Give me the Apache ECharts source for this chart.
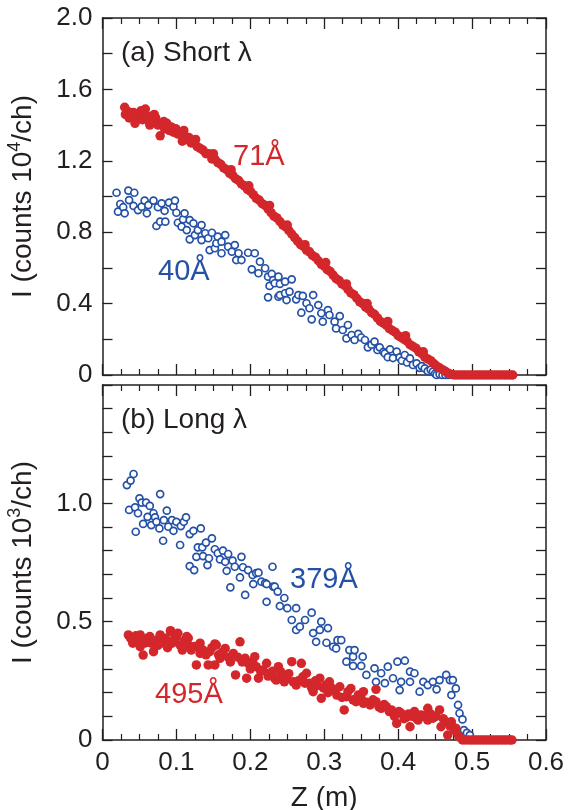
<!DOCTYPE html>
<html>
<head>
<meta charset="utf-8">
<script src="https://cdn.jsdelivr.net/npm/echarts@6/dist/echarts.min.js"></script>
<style>
html,body{margin:0;padding:0;background:#fff;}
#chart{width:568px;height:810px;}
</style>
</head>
<body>
<div id="chart"></div>
<script>
// ---------- DATA ----------
// x axis tick values (Z in m)
const zTicks = [0, 0.1, 0.2, 0.3, 0.4, 0.5, 0.6];
// panel (a) y ticks (counts 10^4/ch), panel (b) y ticks (counts 10^3/ch)
const yTicksTop = [0, 0.4, 0.8, 1.2, 1.6, 2.0];
const yTicksBottom = [0, 0.5, 1.0];

// Panel (a): 71 Å (red filled)
const short71 = [
[0.030,1.50],[0.031,1.46],[0.033,1.48],[0.036,1.44],[0.037,1.47],[0.039,1.45],[0.042,1.47],[0.045,1.44],[0.048,1.46],[0.051,1.45],
[0.052,1.48],[0.054,1.43],[0.057,1.46],[0.060,1.44],[0.063,1.42],[0.064,1.40],[0.066,1.45],[0.069,1.42],[0.072,1.44],[0.075,1.40],
[0.078,1.34],[0.081,1.41],[0.084,1.38],[0.087,1.41],[0.090,1.37],[0.093,1.39],[0.096,1.36],[0.099,1.38],[0.102,1.35],[0.105,1.36],
[0.108,1.31],[0.111,1.34],[0.114,1.32],[0.117,1.33],[0.120,1.30],[0.124,1.30],[0.128,1.28],[0.132,1.27],[0.136,1.26],[0.140,1.24],
[0.144,1.24],[0.148,1.21],[0.152,1.21],[0.156,1.19],[0.160,1.18],[0.164,1.16],[0.168,1.15],[0.172,1.13],[0.176,1.12],[0.180,1.10],
[0.184,1.09],[0.188,1.07],[0.192,1.06],[0.196,1.04],[0.200,1.03],[0.204,1.01],[0.208,0.99],[0.212,0.98],[0.216,0.96],[0.220,0.95],
[0.224,0.93],[0.228,0.91],[0.232,0.89],[0.236,0.88],[0.240,0.86],[0.244,0.84],[0.248,0.83],[0.252,0.81],[0.256,0.79],[0.260,0.77],
[0.264,0.75],[0.268,0.73],[0.272,0.72],[0.276,0.70],[0.280,0.69],[0.284,0.67],[0.288,0.66],[0.292,0.64],[0.296,0.62],[0.300,0.61],
[0.304,0.59],[0.308,0.58],[0.312,0.56],[0.316,0.54],[0.320,0.53],[0.324,0.51],[0.328,0.50],[0.332,0.48],[0.336,0.46],[0.340,0.45],
[0.344,0.43],[0.348,0.41],[0.352,0.40],[0.356,0.38],[0.360,0.37],[0.364,0.35],[0.368,0.34],[0.372,0.32],[0.376,0.30],[0.380,0.29],
[0.384,0.28],[0.388,0.26],[0.392,0.25],[0.396,0.24],[0.400,0.22],[0.404,0.21],[0.408,0.20],[0.412,0.19],[0.416,0.17],[0.420,0.16],
[0.424,0.15],[0.428,0.13],[0.432,0.12],[0.436,0.10],[0.440,0.09],[0.444,0.08],[0.448,0.065],[0.452,0.05],[0.456,0.04],[0.460,0.03],
[0.464,0.02],[0.468,0.01],[0.472,0.003],[0.476,0],[0.480,0],[0.484,0],[0.488,0],[0.492,0],[0.496,0],[0.500,0],[0.504,0],[0.508,0],
[0.512,0],[0.516,0],[0.520,0],[0.524,0],[0.528,0],[0.532,0],[0.536,0],[0.540,0],[0.544,0],[0.548,0],[0.552,0],[0.555,0],
[0.044,1.41],[0.058,1.49],[0.070,1.46],[0.083,1.42],[0.110,1.37],[0.126,1.32],[0.150,1.24],[0.174,1.15],[0.198,1.06],[0.226,0.95],
[0.250,0.84],[0.274,0.73],[0.302,0.63],[0.330,0.51],[0.358,0.40],[0.386,0.30],[0.410,0.22],[0.434,0.13]
];

// Panel (a): 40 Å (blue open)
const short40 = [
[0.019,1.021],[0.021,0.915],[0.024,0.958],[0.028,0.940],[0.030,0.906],[0.035,1.033],[0.036,0.980],[0.042,0.947],[0.043,1.021],[0.048,0.924],
[0.053,0.943],[0.057,0.977],[0.060,0.906],[0.062,0.952],[0.069,0.977],[0.073,0.835],[0.075,0.940],[0.078,0.859],[0.080,0.962],[0.084,0.920],
[0.085,0.859],[0.090,0.966],[0.096,0.943],[0.098,0.977],[0.100,0.909],[0.102,0.853],[0.107,0.831],[0.109,0.872],[0.111,0.906],[0.114,0.812],
[0.118,0.868],[0.118,0.760],[0.123,0.850],[0.125,0.784],[0.129,0.812],[0.134,0.840],[0.134,0.756],[0.139,0.794],[0.143,0.766],[0.145,0.700],
[0.148,0.797],[0.152,0.710],[0.154,0.738],[0.156,0.775],[0.161,0.747],[0.161,0.682],[0.166,0.784],[0.170,0.719],[0.175,0.691],[0.179,0.728],
[0.181,0.644],[0.184,0.682],[0.188,0.644],[0.197,0.685],[0.202,0.592],[0.206,0.682],[0.211,0.570],[0.213,0.635],[0.220,0.598],[0.224,0.551],
[0.224,0.435],[0.226,0.499],[0.229,0.566],[0.231,0.532],[0.233,0.514],[0.238,0.551],[0.238,0.439],[0.240,0.510],[0.240,0.448],[0.247,0.523],
[0.247,0.458],[0.249,0.420],[0.253,0.467],[0.256,0.536],[0.262,0.424],[0.265,0.448],[0.269,0.349],[0.271,0.443],[0.276,0.402],[0.280,0.374],
[0.283,0.312],[0.285,0.448],[0.292,0.392],[0.296,0.346],[0.298,0.299],[0.305,0.364],[0.307,0.336],[0.314,0.299],[0.316,0.261],[0.321,0.330],
[0.325,0.252],[0.330,0.205],[0.332,0.280],[0.337,0.224],[0.341,0.196],[0.346,0.230],[0.350,0.210],[0.355,0.196],[0.359,0.155],[0.364,0.170],
[0.368,0.187],[0.372,0.140],[0.375,0.155],[0.380,0.130],[0.382,0.121],[0.386,0.100],[0.389,0.144],[0.393,0.095],[0.398,0.131],[0.402,0.099],
[0.405,0.080],[0.409,0.112],[0.412,0.070],[0.416,0.093],[0.420,0.056],[0.425,0.065],[0.429,0.040],[0.432,0.050],[0.436,0.037],[0.440,0.022],
[0.444,0.030],[0.447,0.019],[0.450,0.008],[0.452,0.000],[0.456,0.004],[0.460,0.000],[0.464,0.000],[0.468,0.000]
];

// Panel (b): 379 Å (blue open)
const long379 = [
[0.033,1.077],[0.036,0.972],[0.038,1.096],[0.042,1.124],[0.044,0.983],[0.045,0.880],[0.048,0.958],[0.050,1.021],[0.053,1.003],[0.055,0.913],
[0.059,1.003],[0.061,0.943],[0.064,0.989],[0.066,0.908],[0.069,0.958],[0.071,0.941],[0.073,0.922],[0.077,0.894],[0.078,1.039],[0.082,0.842],
[0.083,0.929],[0.087,0.969],[0.089,0.901],[0.094,0.929],[0.096,0.884],[0.100,0.922],[0.105,0.824],[0.106,0.904],[0.110,0.922],[0.113,0.941],
[0.118,0.870],[0.118,0.735],[0.123,0.884],[0.124,0.718],[0.127,0.774],[0.129,0.814],[0.133,0.894],[0.135,0.814],[0.136,0.777],[0.140,0.834],
[0.142,0.739],[0.144,0.768],[0.148,0.852],[0.152,0.806],[0.156,0.789],[0.159,0.763],[0.163,0.800],[0.166,0.753],[0.168,0.715],[0.170,0.786],
[0.173,0.645],[0.176,0.758],[0.179,0.732],[0.186,0.687],[0.188,0.774],[0.190,0.730],[0.193,0.613],[0.197,0.718],[0.203,0.697],[0.204,0.659],
[0.208,0.705],[0.211,0.707],[0.215,0.669],[0.220,0.663],[0.222,0.659],[0.222,0.584],[0.230,0.732],[0.231,0.648],[0.233,0.648],[0.237,0.627],
[0.240,0.566],[0.246,0.600],[0.250,0.557],[0.256,0.507],[0.262,0.557],[0.262,0.465],[0.267,0.479],[0.274,0.507],[0.283,0.538],[0.285,0.452],
[0.289,0.415],[0.294,0.465],[0.296,0.500],[0.303,0.411],[0.305,0.473],[0.312,0.394],[0.316,0.387],[0.318,0.422],[0.323,0.422],[0.330,0.331],
[0.334,0.380],[0.339,0.352],[0.339,0.313],[0.341,0.380],[0.350,0.313],[0.352,0.352],[0.357,0.275],[0.368,0.303],[0.370,0.246],[0.377,0.282],
[0.382,0.240],[0.386,0.310],[0.393,0.261],[0.399,0.331],[0.402,0.211],[0.404,0.246],[0.409,0.335],[0.416,0.289],[0.416,0.246],[0.422,0.282],
[0.429,0.204],[0.434,0.246],[0.440,0.232],[0.447,0.246],[0.452,0.214],[0.456,0.253],[0.465,0.275],[0.470,0.253],[0.472,0.190],[0.474,0.253],
[0.478,0.218],[0.481,0.148],[0.483,0.113],[0.487,0.087],[0.489,0.042],[0.493,0.030],[0.497,0.021],[0.500,0.000],[0.505,0.000],[0.510,0.000],
[0.515,0.000],[0.520,0.000],[0.525,0.000],[0.530,0.000],[0.535,0.000],[0.540,0.000],[0.545,0.000],[0.551,0.000]
];

// Panel (b): 495 Å (red filled)
const long495 = [
[0.035,0.444],[0.038,0.430],[0.041,0.422],[0.041,0.409],[0.045,0.440],[0.048,0.420],[0.051,0.444],[0.051,0.394],[0.055,0.359],[0.058,0.410],
[0.061,0.430],[0.064,0.437],[0.066,0.409],[0.069,0.373],[0.072,0.420],[0.075,0.400],[0.078,0.444],[0.078,0.437],[0.082,0.410],[0.085,0.430],
[0.088,0.390],[0.092,0.462],[0.092,0.458],[0.094,0.409],[0.097,0.425],[0.100,0.437],[0.102,0.451],[0.105,0.401],[0.108,0.380],[0.111,0.420],
[0.114,0.437],[0.116,0.430],[0.116,0.401],[0.120,0.380],[0.124,0.395],[0.127,0.317],[0.130,0.390],[0.132,0.409],[0.132,0.366],[0.136,0.380],
[0.140,0.360],[0.143,0.317],[0.145,0.373],[0.148,0.390],[0.152,0.317],[0.152,0.406],[0.154,0.401],[0.157,0.360],[0.159,0.345],[0.162,0.370],
[0.166,0.387],[0.170,0.350],[0.173,0.330],[0.177,0.366],[0.180,0.275],[0.183,0.350],[0.186,0.415],[0.189,0.330],[0.193,0.345],[0.195,0.261],
[0.197,0.324],[0.200,0.300],[0.203,0.330],[0.206,0.352],[0.208,0.310],[0.211,0.261],[0.214,0.290],[0.217,0.296],[0.222,0.324],[0.224,0.270],
[0.226,0.282],[0.230,0.290],[0.233,0.260],[0.235,0.253],[0.238,0.310],[0.241,0.289],[0.244,0.270],[0.246,0.246],[0.249,0.260],[0.252,0.280],
[0.256,0.331],[0.258,0.246],[0.262,0.232],[0.265,0.250],[0.269,0.324],[0.271,0.267],[0.274,0.240],[0.276,0.282],[0.280,0.240],[0.283,0.220],
[0.285,0.204],[0.288,0.250],[0.291,0.230],[0.294,0.261],[0.296,0.176],[0.299,0.220],[0.302,0.232],[0.305,0.200],[0.307,0.246],[0.310,0.220],
[0.314,0.211],[0.317,0.190],[0.321,0.225],[0.324,0.180],[0.327,0.127],[0.330,0.183],[0.332,0.204],[0.336,0.218],[0.339,0.170],[0.343,0.162],
[0.346,0.190],[0.350,0.175],[0.353,0.204],[0.353,0.155],[0.357,0.160],[0.362,0.148],[0.366,0.170],[0.370,0.214],[0.370,0.162],[0.374,0.140],
[0.377,0.134],[0.381,0.150],[0.384,0.141],[0.388,0.120],[0.391,0.127],[0.395,0.100],[0.398,0.070],[0.401,0.120],[0.404,0.113],[0.408,0.090],
[0.411,0.096],[0.414,0.110],[0.416,0.056],[0.419,0.100],[0.422,0.120],[0.425,0.090],[0.427,0.084],[0.431,0.106],[0.435,0.100],[0.440,0.134],
[0.440,0.084],[0.444,0.110],[0.447,0.092],[0.451,0.100],[0.456,0.127],[0.458,0.056],[0.461,0.090],[0.465,0.077],[0.467,0.021],[0.470,0.060],
[0.472,0.077],[0.476,0.042],[0.478,0.050],[0.481,0.021],[0.484,0.010],[0.487,0],[0.491,0],[0.495,0],[0.499,0],[0.503,0],[0.507,0],[0.511,0],
[0.515,0],[0.519,0],[0.523,0],[0.527,0],[0.531,0],[0.535,0],[0.539,0],[0.543,0],[0.547,0],[0.551,0],[0.554,0]
];

// ---------- STYLE ----------
const RED = '#d3272c';
const BLUE = '#2451a6';
const INK = '#231f20';
const FONT = '"Liberation Sans", Arial, Helvetica, sans-serif';

const chart = echarts.init(document.getElementById('chart'), null, {renderer: 'canvas'});

function fmt(v) { return v === 0 ? '0' : (Math.round(v * 10) / 10).toFixed(1); }

const lineStyle = {color: INK, width: 1.5};

function xAxisDef(grid, pos, showLabel) {
  return {
    type: 'value', gridIndex: grid, position: pos, min: 0, max: 0.6, interval: 0.1,
    axisLine: {show: true, onZero: false, lineStyle: lineStyle},
    axisTick: {show: true, inside: true, length: 11, lineStyle: {color: INK, width: 1.3}},
    minorTick: {show: true, splitNumber: 4, length: 6, lineStyle: {color: INK, width: 1.2}},
    splitLine: {show: false}, minorSplitLine: {show: false},
    axisLabel: {show: showLabel, color: INK, fontSize: 26, fontFamily: FONT, margin: 10,
      formatter: function (v) { return zTicks.indexOf(Math.round(v * 10) / 10) >= 0 ? String(Math.round(v * 10) / 10) : ''; }},
    name: showLabel ? 'Z (m)' : '', nameLocation: 'middle', nameGap: 44,
    nameTextStyle: {color: INK, fontSize: 28, fontFamily: FONT}
  };
}

function yAxisDef(grid, pos, showLabel, max, interval, minorSplit, ticks, name) {
  return {
    type: 'value', gridIndex: grid, position: pos, min: 0, max: max, interval: interval,
    axisLine: {show: true, onZero: false, lineStyle: lineStyle},
    axisTick: {show: true, inside: true, length: 10, lineStyle: {color: INK, width: 1.3}},
    minorTick: {show: true, splitNumber: minorSplit, length: 10, lineStyle: {color: INK, width: 1.3}},
    splitLine: {show: false}, minorSplitLine: {show: false},
    axisLabel: {show: showLabel, color: INK, fontSize: 26, fontFamily: FONT, margin: 10,
      formatter: function (v) { const r = Math.round(v * 10) / 10; return ticks.indexOf(r) >= 0 ? fmt(r) : ''; }},
    name: name || '', nameLocation: 'middle', nameRotate: 90, nameGap: 62,
    nameTextStyle: {color: INK, fontSize: 28, fontFamily: FONT,
      rich: {n: {fontSize: 28, fontFamily: FONT, color: INK}, s: {fontSize: 18, fontFamily: FONT, color: INK, verticalAlign: 'top', lineHeight: 34}}}
  };
}

const option = {
  animation: false,
  backgroundColor: '#ffffff',
  grid: [
    {left: 102.5, top: 18, width: 443.5, height: 357, outerBoundsMode: 'none', containLabel: false},
    {left: 102.5, top: 385, width: 443.5, height: 355, outerBoundsMode: 'none', containLabel: false}
  ],
  xAxis: [
    xAxisDef(0, 'bottom', false),
    xAxisDef(0, 'top', false),
    xAxisDef(1, 'bottom', true),
    xAxisDef(1, 'top', false)
  ],
  yAxis: [
    yAxisDef(0, 'left', true, 2.0, 0.4, 2, yTicksTop, '{n|I (counts 10}{s|4}{n|/ch)}'),
    yAxisDef(0, 'right', false, 2.0, 0.4, 2, yTicksTop, ''),
    yAxisDef(1, 'left', true, 1.5, 0.5, 5, yTicksBottom, '{n|I (counts 10}{s|3}{n|/ch)}'),
    yAxisDef(1, 'right', false, 1.5, 0.5, 5, yTicksBottom, '')
  ],
  series: [
    {name: '40Å', type: 'scatter', xAxisIndex: 0, yAxisIndex: 0, data: short40, symbol: 'circle', symbolSize: 7,
      itemStyle: {color: '#ffffff', borderColor: BLUE, borderWidth: 1.7, opacity: 1}},
    {name: '71Å', type: 'scatter', xAxisIndex: 0, yAxisIndex: 0, data: short71, symbol: 'circle', symbolSize: 9.5,
      itemStyle: {color: RED, opacity: 1}},
    {name: '379Å', type: 'scatter', xAxisIndex: 2, yAxisIndex: 2, data: long379, symbol: 'circle', symbolSize: 7,
      itemStyle: {color: '#ffffff', borderColor: BLUE, borderWidth: 1.7, opacity: 1}},
    {name: '495Å', type: 'scatter', xAxisIndex: 2, yAxisIndex: 2, data: long495, symbol: 'circle', symbolSize: 9.5,
      itemStyle: {color: RED, opacity: 1}}
  ],
  graphic: [
    {type: 'text', left: 121, top: 39, style: {text: '(a) Short λ', fill: INK, font: '28px ' + FONT}},
    {type: 'text', left: 121, top: 406, style: {text: '(b) Long λ', fill: INK, font: '28px ' + FONT}},
    {type: 'text', left: 233, top: 142, style: {text: '71Å', fill: RED, font: '29px ' + FONT}},
    {type: 'text', left: 158, top: 257, style: {text: '40Å', fill: BLUE, font: '29px ' + FONT}},
    {type: 'text', left: 290, top: 565, style: {text: '379Å', fill: BLUE, font: '29px ' + FONT}},
    {type: 'text', left: 155, top: 680, style: {text: '495Å', fill: RED, font: '29px ' + FONT}}
  ]
};

chart.setOption(option);
</script>
</body>
</html>
